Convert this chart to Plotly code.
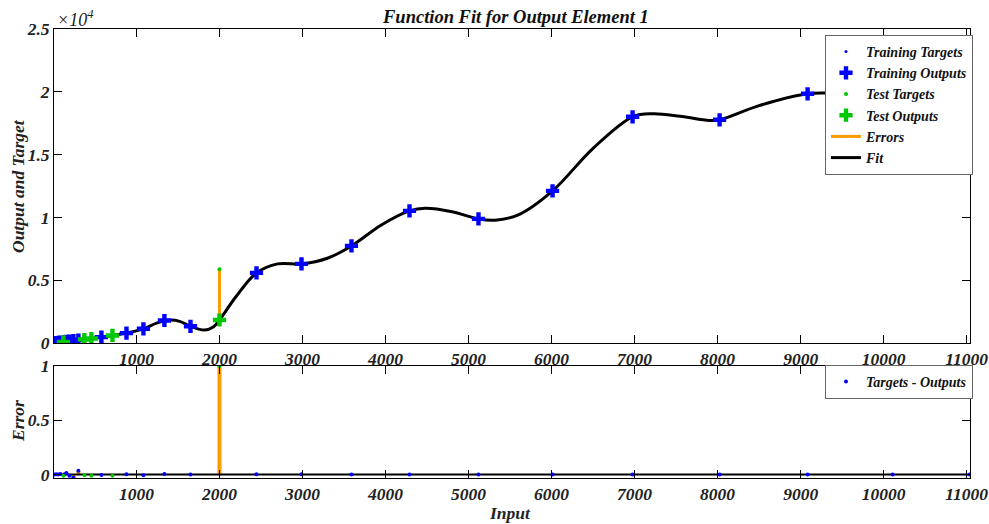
import plotly.graph_objects as go

# ---------------- data ----------------
train_x = [12, 36, 60, 84, 133, 157, 193, 241, 301, 578, 880, 1084, 1337, 1651,
           2446, 2988, 3590, 4289, 5120, 6012, 6976, 8024, 9084, 10108, 11036]
train_out = [10, 30, 50, 70, 105, 125, 155, 190, 240, 470, 790, 1130, 1790, 1330,
             5580, 6300, 7730, 10520, 9880, 12110, 18010, 17770, 19840, 19950, 20880]
train_err = [0.0, 0.003, 0.0, 0.005, 0.002, 0.015, -0.012, -0.03, 0.034, -0.004, 0.003,
             -0.006, 0.004, 0.0, 0.002, 0.002, 0.0, 0.0, 0.0, 0.0, 0.0, 0.0, 0.0, 0.0, 0.0]

test_x = [120, 373, 458, 711, 2000]
test_out = [90, 280, 360, 600, 1830]
test_tgt = [90, 280, 360, 600, 5880]
test_err = [-0.012, -0.006, -0.012, -0.012, 1.0]

fit_x = [7, 300, 580, 880, 1084, 1250, 1400, 1520, 1651, 1820, 1930, 2000, 2200, 2446,
         2700, 2988, 3300, 3590, 3950, 4289, 4480, 4800, 5120, 5320, 5600, 6012, 6500,
         6976, 7220, 7550, 7900, 8024, 8500, 9084, 9400, 10108, 10600, 11036]
fit_y = [0, 240, 470, 790, 1130, 1600, 1820, 1720, 1330, 1030, 1300, 1830, 3700, 5580,
         6300, 6300, 6750, 7730, 9400, 10520, 10720, 10450, 9880, 9780, 10200, 12110, 15500,
         18010, 18250, 18050, 17720, 17770, 18900, 19840, 19900, 19950, 20250, 20880]

x_ticks = [1000, 2000, 3000, 4000, 5000, 6000, 7000, 8000, 9000, 10000, 11000]
x_tick_text = ["1000", "2000", "3000", "4000", "5000", "6000", "7000", "8000", "9000",
               "10000", "11000"]
y_ticks = [0, 5000, 10000, 15000, 20000, 25000]
y_tick_text = ["0", "0.5", "1", "1.5", "2", "2.5"]
err_ticks = [0, 0.5, 1]
err_tick_text = ["0", "0.5", "1"]

# ---------------- styling ----------------
W, H = 989, 524
FONT = "Liberation Serif"
BLUE = "#0000ff"
GREEN = "#00c800"
ORANGE = "#ff9900"
TXT = "#222222"
tickfont = dict(family=FONT, size=17.5, color=TXT, weight="bold", style="italic")


def px_x(p):
    return p / W


def px_y(p):
    return 1 - p / H


train_tgt = train_out[:]  # training errors are invisibly small on the top plot

fig = go.Figure()

# ---- top plot ----
fig.add_trace(go.Scatter(x=fit_x, y=fit_y, mode="lines", name="Fit",
                         line=dict(color="black", width=3, shape="spline", smoothing=1.0),
                         legendrank=6, legend="legend", xaxis="x", yaxis="y"))

ex, ey = [], []
for xv, o, t in zip(test_x, test_out, test_tgt):
    ex += [xv, xv, None]
    ey += [o, t, None]
fig.add_trace(go.Scatter(x=ex, y=ey, mode="lines", name="Errors",
                         line=dict(color=ORANGE, width=3), legendrank=5,
                         legend="legend", xaxis="x", yaxis="y"))

fig.add_trace(go.Scatter(x=train_x, y=train_tgt, mode="markers", name="Training Targets",
                         marker=dict(color=BLUE, size=3), legendrank=1,
                         legend="legend", xaxis="x", yaxis="y"))
fig.add_trace(go.Scatter(x=train_x, y=train_out, mode="markers", name="Training Outputs",
                         marker=dict(color=BLUE, size=11, symbol="cross"), legendrank=2,
                         legend="legend", xaxis="x", yaxis="y"))
fig.add_trace(go.Scatter(x=test_x, y=test_tgt, mode="markers", name="Test Targets",
                         marker=dict(color=GREEN, size=4), legendrank=3,
                         legend="legend", xaxis="x", yaxis="y"))
fig.add_trace(go.Scatter(x=test_x, y=test_out, mode="markers", name="Test Outputs",
                         marker=dict(color=GREEN, size=11, symbol="cross"), legendrank=4,
                         legend="legend", xaxis="x", yaxis="y"))

# ---- bottom plot ----
sx, sy = [], []
for xv, e in zip(train_x + test_x, train_err + test_err):
    sx += [xv, xv, None]
    sy += [0, e, None]
fig.add_trace(go.Scatter(x=sx, y=sy, mode="lines", showlegend=False,
                         line=dict(color=ORANGE, width=4), xaxis="x2", yaxis="y2"))
fig.add_trace(go.Scatter(x=[min(fit_x), max(fit_x)], y=[0, 0], mode="lines", showlegend=False,
                         line=dict(color="black", width=2), xaxis="x2", yaxis="y2"))
fig.add_trace(go.Scatter(x=train_x, y=train_err, mode="markers", name="Targets - Outputs",
                         marker=dict(color=BLUE, size=4), legend="legend2",
                         xaxis="x2", yaxis="y2"))
fig.add_trace(go.Scatter(x=test_x, y=test_err, mode="markers", showlegend=False,
                         marker=dict(color=GREEN, size=4), xaxis="x2", yaxis="y2"))

xdom = [px_x(54), px_x(970)]
axis_common = dict(showgrid=False, zeroline=False, showline=True, linecolor="black",
                   linewidth=1, mirror="ticks", ticks="inside", ticklen=8,
                   tickcolor="black", tickfont=tickfont, automargin=False)
legfont = dict(family=FONT, size=14, color="#111", weight="bold", style="italic")

fig.update_layout(
    width=W, height=H,
    margin=dict(l=0, r=0, t=0, b=0),
    paper_bgcolor="white", plot_bgcolor="white",
    xaxis=dict(domain=xdom, range=[7, 11040], tickvals=x_ticks, ticktext=x_tick_text,
               anchor="y", **axis_common),
    yaxis=dict(domain=[px_y(343), px_y(29)], range=[0, 25000], tickvals=y_ticks,
               ticktext=y_tick_text, anchor="x", **axis_common),
    xaxis2=dict(domain=xdom, range=[7, 11040], tickvals=x_ticks, ticktext=x_tick_text,
                anchor="y2", **axis_common),
    yaxis2=dict(domain=[px_y(478), px_y(366)], range=[-0.032, 1], tickvals=err_ticks,
                ticktext=err_tick_text, anchor="x2", **axis_common),
    legend=dict(x=px_x(825), y=px_y(35), xanchor="left", yanchor="top",
                bgcolor="white", bordercolor="#666", borderwidth=1,
                font=legfont, itemwidth=30, tracegroupgap=0),
    legend2=dict(x=px_x(825), y=px_y(365), xanchor="left", yanchor="top",
                 bgcolor="white", bordercolor="#666", borderwidth=1,
                 font=legfont, itemwidth=30),
    annotations=[
        dict(text="Function Fit for Output Element 1", x=px_x(515), y=px_y(17),
             xref="paper", yref="paper", showarrow=False, xanchor="center", yanchor="middle",
             font=dict(family=FONT, size=18.5, color="#111", weight="bold", style="italic")),
        dict(text="×10<sup>4</sup>", x=px_x(55), y=px_y(18), xref="paper", yref="paper",
             showarrow=False, xanchor="left", yanchor="middle",
             font=dict(family=FONT, size=18, color=TXT, style="italic")),
        dict(text="Output and Target", x=px_x(18), y=px_y(186), xref="paper", yref="paper",
             showarrow=False, xanchor="center", yanchor="middle", textangle=-90,
             font=dict(family=FONT, size=17.5, color=TXT, weight="bold", style="italic")),
        dict(text="Error", x=px_x(18), y=px_y(421), xref="paper", yref="paper",
             showarrow=False, xanchor="center", yanchor="middle", textangle=-90,
             font=dict(family=FONT, size=17.5, color=TXT, weight="bold", style="italic")),
        dict(text="Input", x=px_x(510), y=px_y(513), xref="paper", yref="paper",
             showarrow=False, xanchor="center", yanchor="middle",
             font=dict(family=FONT, size=17.5, color=TXT, weight="bold", style="italic")),
    ],
)

fig.write_html("out.html")
